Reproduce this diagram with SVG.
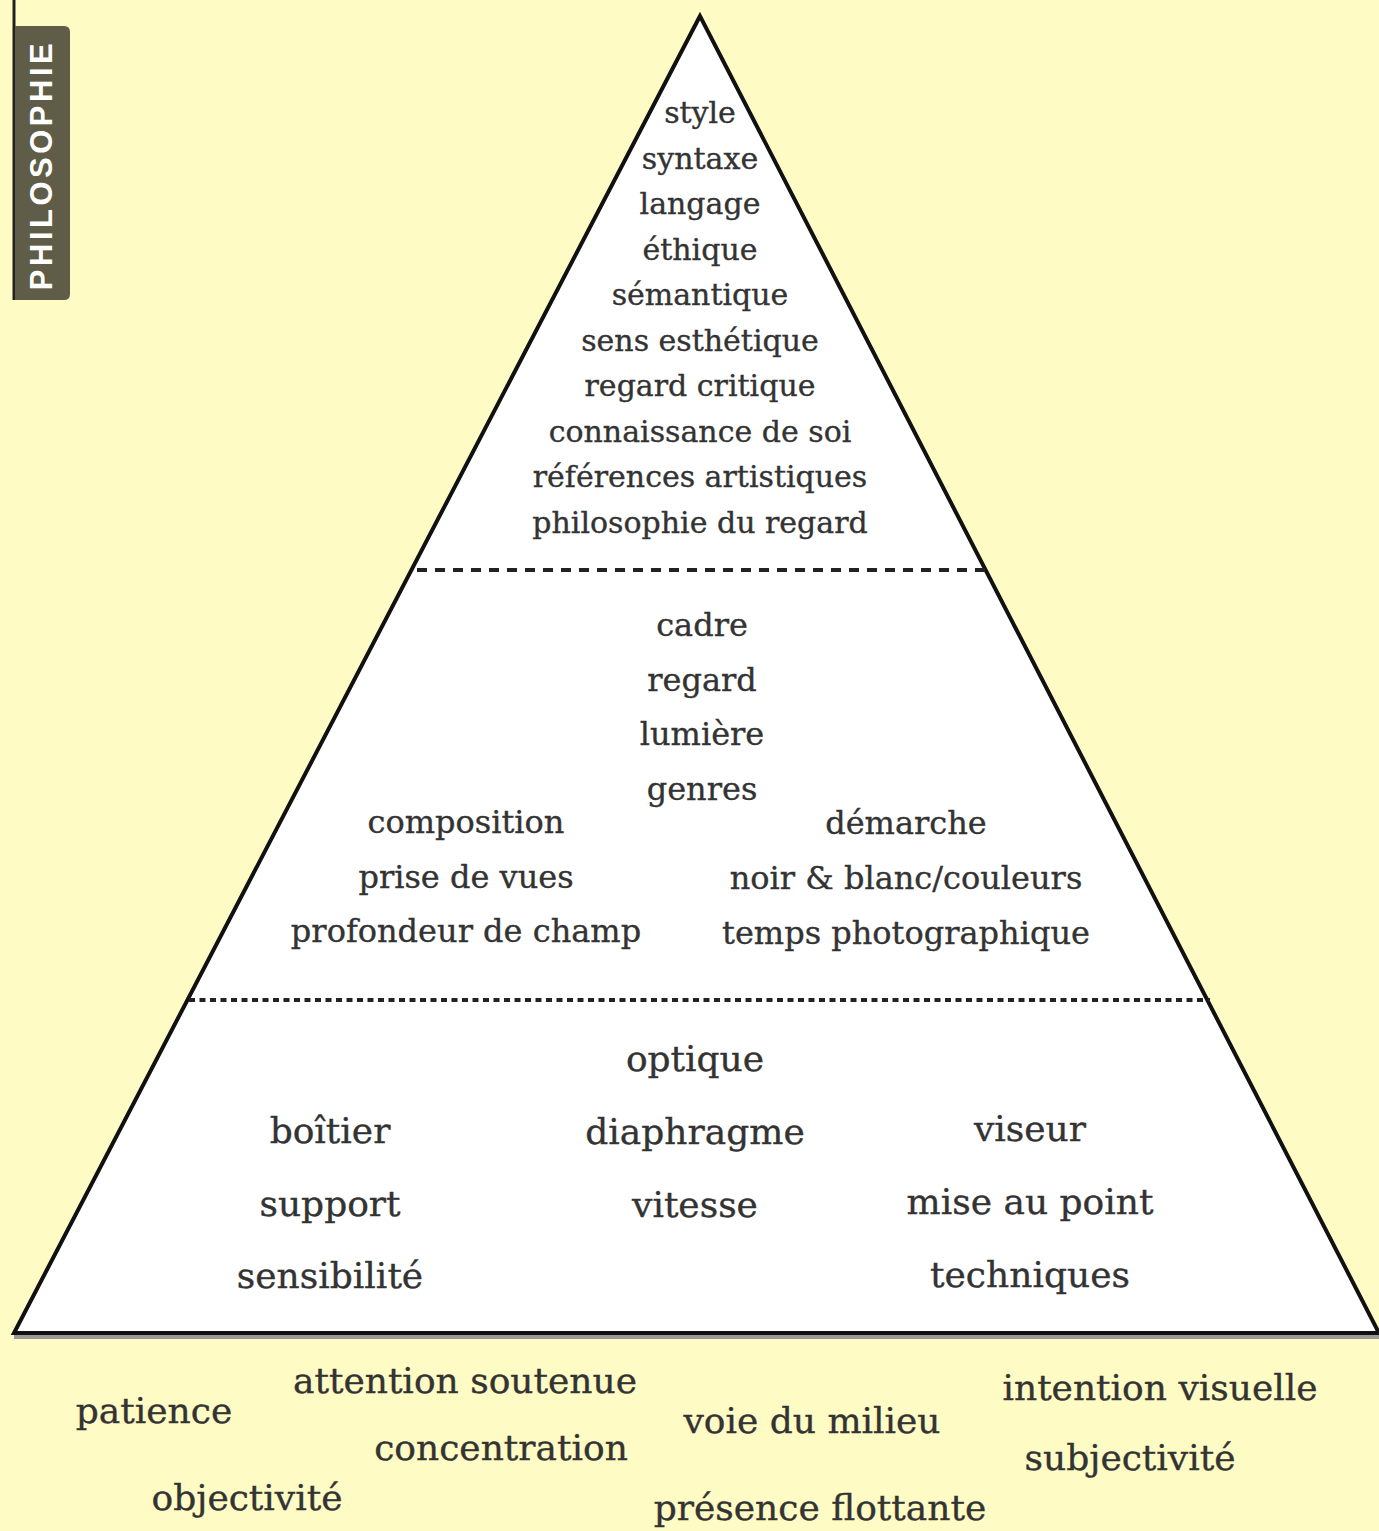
<svg xmlns="http://www.w3.org/2000/svg" width="1379" height="1531" viewBox="0 0 1379 1531">
<style>
.t{font-family:"DejaVu Serif","Liberation Serif",serif;fill:#333333;stroke:#333333;stroke-width:0.35;text-anchor:middle}
.s1{font-size:30px}
.s2{font-size:32px}
.s3{font-size:36px}
.dash{stroke:#222;stroke-width:4;fill:none}
</style>
<rect width="1379" height="1531" fill="#fefbc4"/>
<g id="tab">
<line x1="14" y1="0" x2="14" y2="300" stroke="#222" stroke-width="3"/>
<path d="M15 26 H64 Q70 26 70 32 V294 Q70 300 64 300 H15 Z" fill="#5f5c48"/>
<text x="0" y="0" transform="translate(52,165) rotate(-90)" font-family="Liberation Sans,Arial,sans-serif" font-weight="bold" font-size="31" letter-spacing="3.5" fill="#ffffff" text-anchor="middle">PHILOSOPHIE</text>
</g>
<g id="pyramid">
<line x1="14" y1="1337" x2="1379" y2="1337" stroke="#999" stroke-width="4"/>
<polygon points="700,16 14,1333 1379,1333" fill="#ffffff" stroke="#111" stroke-width="4" stroke-linejoin="miter"/>
</g>
<g id="connectors">
<line class="dash" x1="417" y1="570" x2="985" y2="570" stroke-dasharray="10 8"/>
<line class="dash" x1="189" y1="1000" x2="1210" y2="1000" stroke-dasharray="6 4.5"/>
</g>
<g id="top-level">
<text class="t s1" x="700" y="123">style</text>
<text class="t s1" x="700" y="169">syntaxe</text>
<text class="t s1" x="700" y="214">langage</text>
<text class="t s1" x="700" y="260">éthique</text>
<text class="t s1" x="700" y="305">sémantique</text>
<text class="t s1" x="700" y="351">sens esthétique</text>
<text class="t s1" x="700" y="396">regard critique</text>
<text class="t s1" x="700" y="442">connaissance de soi</text>
<text class="t s1" x="700" y="487">références artistiques</text>
<text class="t s1" x="700" y="533">philosophie du regard</text>
</g>
<g id="middle-level">
<text class="t s2" x="702" y="636">cadre</text>
<text class="t s2" x="702" y="691">regard</text>
<text class="t s2" x="702" y="745">lumière</text>
<text class="t s2" x="702" y="800">genres</text>
<text class="t s2" x="466" y="833">composition</text>
<text class="t s2" x="466" y="888">prise de vues</text>
<text class="t s2" x="466" y="942">profondeur de champ</text>
<text class="t s2" x="906" y="834">démarche</text>
<text class="t s2" x="906" y="889">noir &amp; blanc/couleurs</text>
<text class="t s2" x="906" y="944">temps photographique</text>
</g>
<g id="bottom-level">
<text class="t s3" x="695" y="1071">optique</text>
<text class="t s3" x="695" y="1144">diaphragme</text>
<text class="t s3" x="695" y="1217">vitesse</text>
<text class="t s3" x="330" y="1143">boîtier</text>
<text class="t s3" x="330" y="1216">support</text>
<text class="t s3" x="330" y="1288">sensibilité</text>
<text class="t s3" x="1030" y="1141">viseur</text>
<text class="t s3" x="1030" y="1214">mise au point</text>
<text class="t s3" x="1030" y="1287">techniques</text>
</g>
<g id="base">
<text class="t s3" x="154" y="1423">patience</text>
<text class="t s3" x="465" y="1393">attention soutenue</text>
<text class="t s3" x="501" y="1460">concentration</text>
<text class="t s3" x="247" y="1510">objectivité</text>
<text class="t s3" x="812" y="1433">voie du milieu</text>
<text class="t s3" x="820" y="1520">présence flottante</text>
<text class="t s3" x="1160" y="1400">intention visuelle</text>
<text class="t s3" x="1130" y="1470">subjectivité</text>
</g>
</svg>
